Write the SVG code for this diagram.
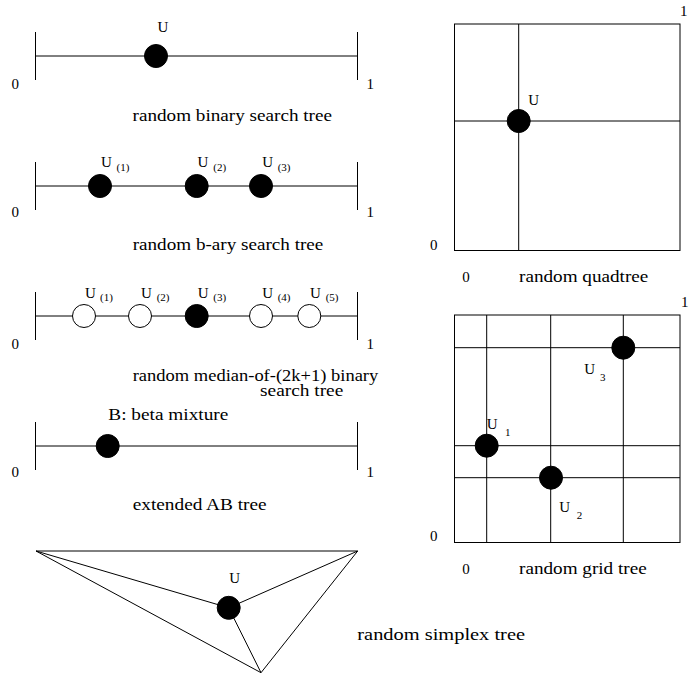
<svg xmlns="http://www.w3.org/2000/svg" width="691" height="675" viewBox="0 0 691 675">
<style>
text{fill:#000;font-family:'Liberation Serif','Times New Roman',serif}
.t{font-size:16px}
.n{font-size:15px}
.s{font-size:11px}
.ln{stroke:#000;stroke-width:1;fill:none}
.f{fill:#000;stroke:#000;stroke-width:1}
.o{fill:#fff;stroke:#000;stroke-width:1}
</style>
<rect width="691" height="675" fill="#fff"/>
<g id="connectors">
<line class="ln" x1="35.5" y1="56" x2="357.5" y2="56"/>
<line class="ln" x1="35.5" y1="32" x2="35.5" y2="80"/>
<line class="ln" x1="357.5" y1="32" x2="357.5" y2="80"/>
<line class="ln" x1="35.5" y1="186" x2="357.5" y2="186"/>
<line class="ln" x1="35.5" y1="162" x2="35.5" y2="210"/>
<line class="ln" x1="357.5" y1="162" x2="357.5" y2="210"/>
<line class="ln" x1="35.5" y1="316" x2="357.5" y2="316"/>
<line class="ln" x1="35.5" y1="292" x2="35.5" y2="340"/>
<line class="ln" x1="357.5" y1="292" x2="357.5" y2="340"/>
<line class="ln" x1="35.5" y1="446" x2="357.5" y2="446"/>
<line class="ln" x1="35.5" y1="422" x2="35.5" y2="470"/>
<line class="ln" x1="357.5" y1="422" x2="357.5" y2="470"/>
<rect class="ln" x="454.5" y="24" width="225.5" height="226.5"/>
<line class="ln" x1="518.7" y1="24" x2="518.7" y2="250.5"/>
<line class="ln" x1="454.5" y1="121" x2="680" y2="121"/>
<rect class="ln" x="454.5" y="315" width="225.5" height="227.5"/>
<line class="ln" x1="486.7" y1="315" x2="486.7" y2="542.5"/>
<line class="ln" x1="550.7" y1="315" x2="550.7" y2="542.5"/>
<line class="ln" x1="623.3" y1="315" x2="623.3" y2="542.5"/>
<line class="ln" x1="454.5" y1="347.7" x2="680" y2="347.7"/>
<line class="ln" x1="454.5" y1="445.7" x2="680" y2="445.7"/>
<line class="ln" x1="454.5" y1="477.7" x2="680" y2="477.7"/>
<polygon class="ln" points="36,551 357.7,551 261,672.7"/>
<line class="ln" x1="36" y1="551" x2="228.7" y2="607.8"/>
<line class="ln" x1="357.7" y1="551" x2="228.7" y2="607.8"/>
<line class="ln" x1="261" y1="672.7" x2="228.7" y2="607.8"/>
</g>
<g id="bst">
<circle class="f" cx="156" cy="56" r="11.5"/>
<text class="n" x="157.5" y="32">U</text>
<text class="n" x="11.5" y="88.5">0</text>
<text class="n" x="366.5" y="88.5">1</text>
<text class="t" x="132.5" y="121" textLength="199.5" lengthAdjust="spacingAndGlyphs">random binary search tree</text>
</g>
<g id="bary">
<circle class="f" cx="100" cy="186" r="11.5"/>
<circle class="f" cx="196.7" cy="186" r="11.5"/>
<circle class="f" cx="261" cy="186" r="11.5"/>
<text class="n" x="101" y="167">U</text><text class="s" x="116.5" y="170.5">(1)</text>
<text class="n" x="197.5" y="167">U</text><text class="s" x="213.3" y="170.5">(2)</text>
<text class="n" x="262.3" y="167">U</text><text class="s" x="277.7" y="170.5">(3)</text>
<text class="n" x="11.5" y="217">0</text>
<text class="n" x="366.5" y="217">1</text>
<text class="t" x="132.7" y="250" textLength="190.6" lengthAdjust="spacingAndGlyphs">random b-ary search tree</text>
</g>
<g id="median">
<circle class="o" cx="84" cy="316" r="11.5"/>
<circle class="o" cx="140" cy="316" r="11.5"/>
<circle class="f" cx="196.7" cy="316" r="11.5"/>
<circle class="o" cx="261" cy="316" r="11.5"/>
<circle class="o" cx="309.3" cy="316" r="11.5"/>
<text class="n" x="85" y="298">U</text><text class="s" x="100" y="300.5">(1)</text>
<text class="n" x="141" y="298">U</text><text class="s" x="156.7" y="300.5">(2)</text>
<text class="n" x="197.7" y="298">U</text><text class="s" x="213.3" y="300.5">(3)</text>
<text class="n" x="262.3" y="298">U</text><text class="s" x="277.7" y="300.5">(4)</text>
<text class="n" x="310" y="298">U</text><text class="s" x="325.7" y="300.5">(5)</text>
<text class="n" x="11.5" y="348.5">0</text>
<text class="n" x="366.5" y="348.5">1</text>
<text class="t" x="132.7" y="381" textLength="245.6" lengthAdjust="spacingAndGlyphs">random median-of-(2k+1) binary</text>
<text class="t" x="260" y="395.5" textLength="83.3" lengthAdjust="spacingAndGlyphs">search tree</text>
</g>
<g id="ab">
<text class="t" x="108.3" y="419.5" textLength="120" lengthAdjust="spacingAndGlyphs">B: beta mixture</text>
<circle class="f" cx="107.7" cy="446" r="11.5"/>
<text class="n" x="11.5" y="477">0</text>
<text class="n" x="366.5" y="477">1</text>
<text class="t" x="132.7" y="509.5" textLength="134" lengthAdjust="spacingAndGlyphs">extended AB tree</text>
</g>
<g id="quadtree">
<circle class="f" cx="518.7" cy="121" r="11.5"/>
<text class="n" x="528.3" y="105">U</text>
<text class="n" x="680" y="16">1</text>
<text class="n" x="430" y="250">0</text>
<text class="n" x="462.3" y="282">0</text>
<text class="t" x="519" y="282" textLength="129.3" lengthAdjust="spacingAndGlyphs">random quadtree</text>
</g>
<g id="gridtree">
<circle class="f" cx="486.7" cy="445.7" r="11.5"/>
<circle class="f" cx="551" cy="477.7" r="11.5"/>
<circle class="f" cx="623.3" cy="347.7" r="11.5"/>
<text class="n" x="584.3" y="373.5">U</text><text class="s" x="600" y="381">3</text>
<text class="n" x="486.7" y="428.5">U</text><text class="s" x="505" y="436">1</text>
<text class="n" x="559.3" y="512">U</text><text class="s" x="576.7" y="518.5">2</text>
<text class="n" x="681" y="307">1</text>
<text class="n" x="430" y="541">0</text>
<text class="n" x="462.3" y="573.5">0</text>
<text class="t" x="519" y="573.5" textLength="127.7" lengthAdjust="spacingAndGlyphs">random grid tree</text>
</g>
<g id="simplex">
<circle class="f" cx="228.7" cy="607.8" r="11.5"/>
<text class="n" x="229.3" y="583">U</text>
<text class="t" x="357.3" y="640" textLength="167.7" lengthAdjust="spacingAndGlyphs">random simplex tree</text>
</g>
</svg>
